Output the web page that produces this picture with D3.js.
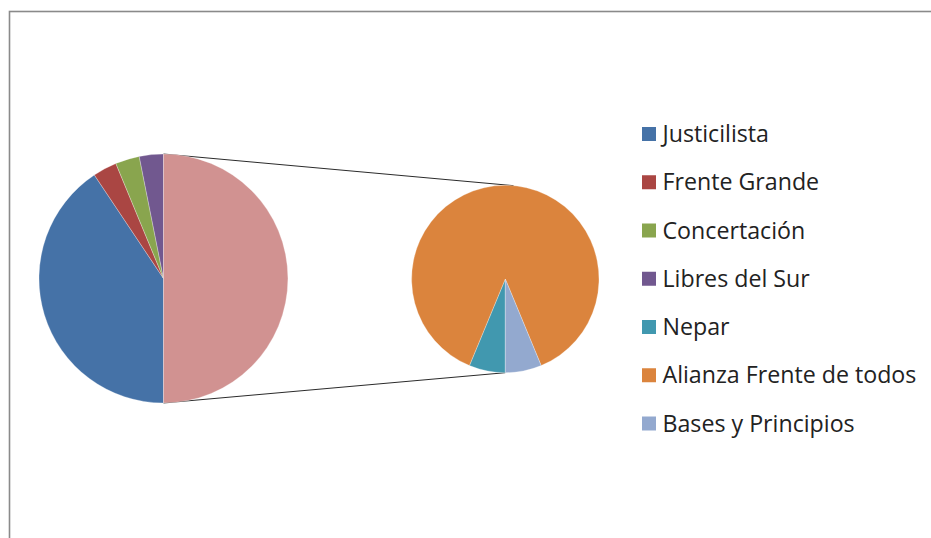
<!DOCTYPE html>
<html>
<head>
<meta charset="utf-8">
<script src="https://cdn.jsdelivr.net/npm/d3@7"></script>
<style>
  html, body { margin: 0; padding: 0; background: #fff; }
  svg { display: block; }
</style>
</head>
<body>
<svg id="chart" width="931" height="538"></svg>
<script>
// Data (seats per party)
const parties = ["Justicilista", "Frente Grande", "Concertación", "Libres del Sur", "Nepar", "Alianza Frente de todos", "Bases y Principios"];
const seats = [13, 1, 1, 1, 1, 14, 1];
const colors = ["#4572A7", "#AA4643", "#89A54E", "#71588F", "#4198AF", "#DB843D", "#93A9CF"];
const otherColor = "#D19291";
const splitIndex = 4; // last 3 parties go to the second pie

const width = 931, height = 538;
const svg = d3.select("#chart");

// Chart frame
svg.append("rect")
  .attr("x", 9.5).attr("y", 11.5)
  .attr("width", 1000).attr("height", 1000)
  .attr("fill", "#fff")
  .attr("stroke", "#8a8a8a")
  .attr("stroke-width", 1.6);

const mainItems = parties.slice(0, splitIndex).map((p, i) => ({ name: p, value: seats[i], color: colors[i] }));
const secItems = parties.slice(splitIndex).map((p, i) => ({ name: p, value: seats[splitIndex + i], color: colors[splitIndex + i] }));
const otherTotal = d3.sum(secItems, d => d.value);
mainItems.push({ name: "Otros", value: otherTotal, color: otherColor });

const pie = d3.pie().sort(null).value(d => d.value)
  .startAngle(Math.PI).endAngle(3 * Math.PI);

const mainC = [163.5, 278.5], mainR = 124.5;
const secC = [505.3, 279], secR = 93.7;

// Connector lines
const mainArcs = pie(mainItems);
const otherArc = mainArcs[mainArcs.length - 1];
const pt = (c, r, a) => [c[0] + r * Math.sin(a), c[1] - r * Math.cos(a)];
const lines = [
  [pt(mainC, mainR, otherArc.startAngle), pt(secC, secR, 0.088)],
  [pt(mainC, mainR, otherArc.endAngle), pt(secC, secR, Math.PI)]
];
svg.append("g").selectAll("line").data(lines).join("line")
  .attr("x1", d => d[0][0]).attr("y1", d => d[0][1])
  .attr("x2", d => d[1][0]).attr("y2", d => d[1][1])
  .attr("stroke", "#2b2b2b").attr("stroke-width", 1);

// Main pie
svg.append("g").attr("transform", `translate(${mainC})`)
  .selectAll("path").data(mainArcs).join("path")
  .attr("d", d3.arc().innerRadius(0).outerRadius(mainR))
  .attr("fill", d => d.data.color)
  .attr("stroke", "#fff").attr("stroke-width", 0.4).attr("stroke-opacity", 0.7);

// Secondary pie
svg.append("g").attr("transform", `translate(${secC})`)
  .selectAll("path").data(pie(secItems)).join("path")
  .attr("d", d3.arc().innerRadius(0).outerRadius(secR))
  .attr("fill", d => d.data.color)
  .attr("stroke", "#fff").attr("stroke-width", 0.4).attr("stroke-opacity", 0.7);

// Legend
const legendY = d3.scalePoint().domain(parties).range([134, 423.5]);
const legend = svg.append("g").selectAll("g").data(parties).join("g")
  .attr("transform", d => `translate(642,${legendY(d)})`);
legend.append("rect")
  .attr("x", 0).attr("y", -7).attr("width", 14).attr("height", 14)
  .attr("fill", (d, i) => colors[i]);
legend.append("text")
  .attr("x", 20.5).attr("y", 8)
  .attr("font-family", "'Open Sans', sans-serif")
  .attr("font-size", 23.2)
  .attr("fill", "#222")
  .text(d => d);
</script>
</body>
</html>
